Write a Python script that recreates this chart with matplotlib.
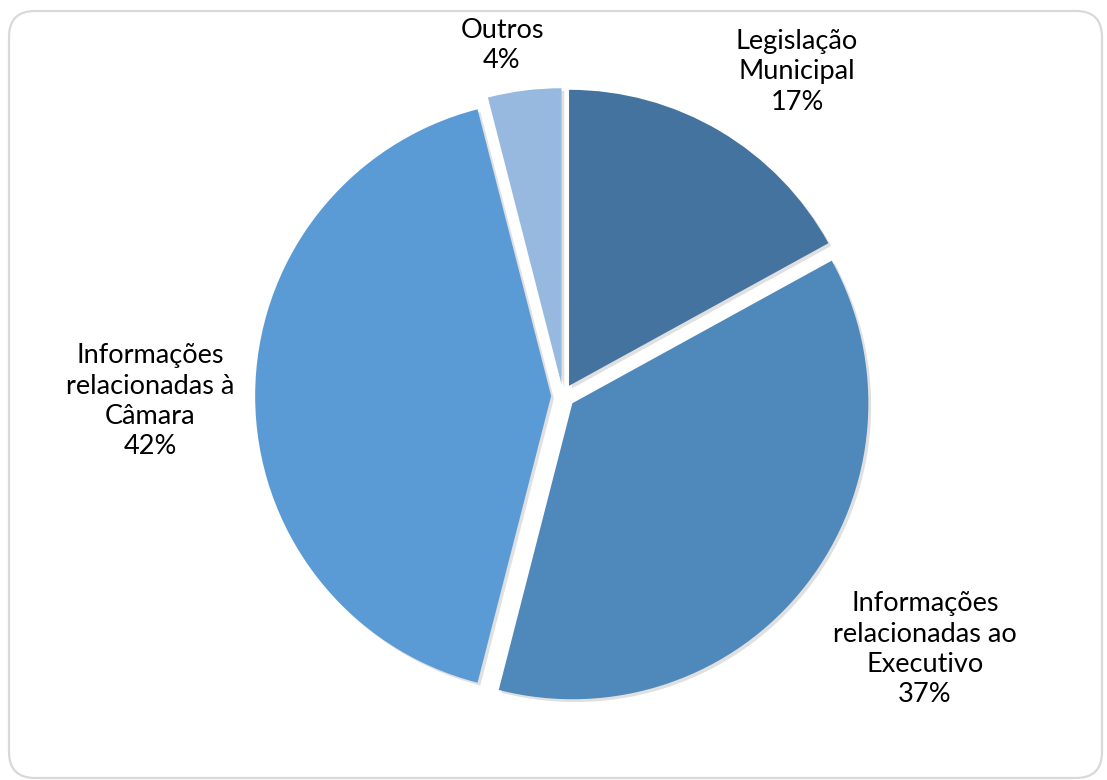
import matplotlib.pyplot as plt
import matplotlib.patheffects as pe
from matplotlib.patches import FancyBboxPatch
from matplotlib.transforms import IdentityTransform

categories = [
    "Legislação\nMunicipal",
    "Informações\nrelacionadas ao\nExecutivo",
    "Informações\nrelacionadas à\nCâmara",
    "Outros",
]
shares = [17, 37, 42, 4]
colors = ["#44739F", "#4F88BB", "#5A9BD5", "#97B9E0"]

# label anchor points (pixels from top-left) as placed in the original
label_pos = [(797, 72), (925, 649), (150, 401), (502, 46)]

W, H = 1107, 780
cx, cy, r = 563, 396, 296

plt.rcParams["font.family"] = ["Lato", "DejaVu Sans"]

fig = plt.figure(figsize=(W / 100, H / 100), dpi=100)
ax = fig.add_axes([0, 0, 1, 1])

wedges, _ = ax.pie(
    shares,
    colors=colors,
    startangle=90,
    counterclock=False,
    explode=[0.04] * len(shares),
    radius=1,
    wedgeprops=dict(linewidth=0),
)
for w in wedges:
    w.set_path_effects([
        pe.SimplePatchShadow(offset=(2, -2), shadow_rgbFace="#999999", alpha=0.3),
        pe.Normal(),
    ])

ax.set_xlim(-cx / r, (W - cx) / r)
ax.set_ylim(-(H - cy) / r, cy / r)
ax.set_aspect("equal")
ax.axis("off")

for lab, pct, (px, py) in zip(categories, shares, label_pos):
    ax.text((px - cx) / r, (cy - py) / r, f"{lab}\n{pct}%",
            ha="center", va="center", fontsize=19.5, color="#000000",
            linespacing=1.25)

border = FancyBboxPatch((9, H - 778), 1093, 767,
                        boxstyle="round,pad=0,rounding_size=26",
                        transform=IdentityTransform(), fill=False,
                        edgecolor="#D9D9D9", linewidth=1.6)
fig.patches.append(border)

fig.savefig("out.png", dpi=100)
